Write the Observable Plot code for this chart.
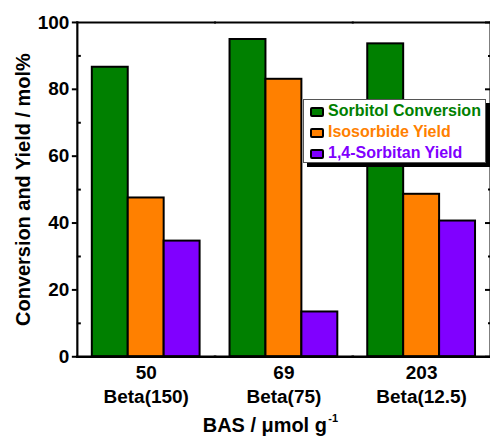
<!DOCTYPE html>
<html>
<head>
<meta charset="utf-8">
<script src="https://cdn.jsdelivr.net/npm/d3@7"></script>
<script src="https://cdn.jsdelivr.net/npm/@observablehq/plot@0.6"></script>
<style>
html, body { margin: 0; padding: 0; overflow: hidden; background: #fff; }
#wrap { position: relative; width: 490px; height: 436px; overflow: hidden; }
#wrap svg { display: block; }
.legend { position: absolute; left: 303px; top: 99px; width: 183px; height: 64px; box-sizing: border-box;
  background: #fff; border: 1px solid #555; box-shadow: 4px 4px 0 #000; padding-top: 1px;
  font: bold 16px "Liberation Sans", Arial, sans-serif; }
.legend .row { position: relative; height: 21px; line-height: 19px; white-space: nowrap; }
.legend .sw { position: absolute; left: 6px; top: 6px; width: 10px; height: 6px; border: 2px solid #000; border-radius: 2px; }
.legend .lab { position: absolute; left: 24px; top: 0; }
</style>
</head>
<body>
<div id="wrap"></div>
<script>
const categories = ["50", "69", "203"];
const catalysts = ["Beta(150)", "Beta(75)", "Beta(12.5)"];
const seriesNames = ["Sorbitol Conversion", "Isosorbide Yield", "1,4-Sorbitan Yield"];
const seriesColors = ["#008000", "#FF8000", "#8000FF"];
const conversion = [86.6, 94.9, 93.6];
const isosorbide = [47.5, 83.0, 48.6];
const sorbitan = [34.6, 13.4, 40.6];
const yTicks = [0, 20, 40, 60, 80, 100];
const yMinorTicks = [10, 30, 50, 70, 90];
const yLabel = "Conversion and Yield / mol%";
const xLabel = "BAS / \u03bcmol g";
const xLabelSup = "-1";

const seriesValues = [conversion, isosorbide, sorbitan];
const rows = categories.flatMap((c, i) =>
  seriesNames.map((s, j) => ({cat: c, series: s, value: seriesValues[j][i]})));

const font = '"Liberation Sans", Arial, Helvetica, sans-serif';

const chart = Plot.plot({
  width: 491,
  height: 436,
  marginLeft: 76,
  marginRight: 0,
  marginTop: 22,
  marginBottom: 79,
  style: {fontFamily: font, background: "white", color: "black", overflow: "visible"},
  fx: {domain: categories, padding: 0, axis: null},
  x: {domain: seriesNames, paddingInner: 0, paddingOuter: 0.385, axis: null},
  y: {domain: [0, 100], axis: null},
  color: {domain: seriesNames, range: seriesColors},
  marks: [
    Plot.barY(rows, {fx: "cat", x: "series", y: "value", fill: "series", stroke: "black", strokeWidth: 2}),
    Plot.frame({anchor: "top", strokeWidth: 2}),
    Plot.frame({anchor: "bottom", strokeWidth: 2.6}),
    Plot.frame({anchor: "left", facetAnchor: "left", strokeWidth: 2.2}),
    Plot.frame({anchor: "right", facetAnchor: "right", strokeWidth: 2}),
    Plot.axisY({anchor: "left", ticks: yTicks, tickSize: 5, tickPadding: 3, fontSize: 19, fontWeight: "bold", label: null, strokeWidth: 2}),
    Plot.axisY({anchor: "left", ticks: yMinorTicks, tickSize: 4, dx: 4, fill: "none", label: null, strokeWidth: 2}),
    Plot.axisY({anchor: "right", ticks: yTicks, tickSize: 6, dx: -6, fill: "none", label: null, strokeWidth: 2}),
    Plot.axisY({anchor: "right", ticks: yMinorTicks, tickSize: 3, dx: -3, fill: "none", label: null, strokeWidth: 2}),
    Plot.text(categories, {fx: d => d, text: d => d, frameAnchor: "bottom", textAnchor: "middle", lineAnchor: "bottom", dy: 22, fontSize: 19, fontWeight: "bold"}),
    Plot.text(categories, {fx: d => d, text: (d, i) => catalysts[i], frameAnchor: "bottom", textAnchor: "middle", lineAnchor: "bottom", dy: 46.5, fontSize: 19, fontWeight: "bold"}),
    Plot.text([yLabel], {fx: () => categories[0], text: d => d, frameAnchor: "left", textAnchor: "middle", rotate: -90, lineAnchor: "bottom", dx: -47.5, fontSize: 20, fontWeight: "bold"}),
    Plot.text([xLabel], {fx: () => categories[1], text: d => d, frameAnchor: "bottom", lineAnchor: "bottom", textAnchor: "end", dx: 43, dy: 75, fontSize: 20, fontWeight: "bold"}),
    Plot.text([xLabelSup], {fx: () => categories[1], text: d => d, frameAnchor: "bottom", lineAnchor: "bottom", textAnchor: "start", dx: 44.5, dy: 65.7, fontSize: 11, fontWeight: "bold"})
  ]
});

const wrap = document.getElementById("wrap");
wrap.appendChild(chart);

const legend = document.createElement("div");
legend.className = "legend";
seriesNames.forEach((name, i) => {
  const row = document.createElement("div");
  row.className = "row";
  const sw = document.createElement("span");
  sw.className = "sw";
  sw.style.background = seriesColors[i];
  const lab = document.createElement("span");
  lab.className = "lab";
  lab.style.color = seriesColors[i];
  lab.textContent = name;
  row.appendChild(sw);
  row.appendChild(lab);
  legend.appendChild(row);
});
wrap.appendChild(legend);
</script>
</body>
</html>
